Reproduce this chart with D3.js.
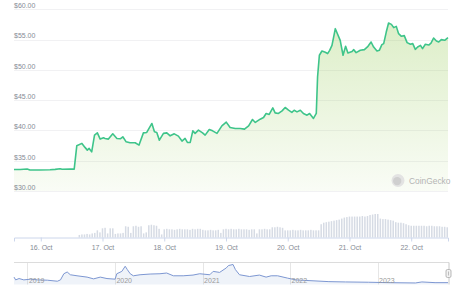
<!DOCTYPE html>
<html>
<head>
<meta charset="utf-8">
<script src="https://cdn.jsdelivr.net/npm/d3@7"></script>
<style>
	html, body { margin: 0; padding: 0; background: #fff; }
	svg { display: block; font-family: "Liberation Sans", Arial, sans-serif; }
</style>
</head>
<body>
<svg id="chart" width="460" height="298"></svg>
<script>
// price samples: hours counted from 15 Oct 2023 00:00 UTC, price in USD
var priceHours = [13.6, 16.0, 18.7, 19.8, 23.7, 27.6, 29.6, 31.5, 32.3, 35.4, 37.0,
	38.0, 40.0, 41.2, 42.1, 42.8, 43.8, 44.9, 46.0, 47.1, 48.4, 49.0, 50.3,
	52.0, 53.6, 54.9, 55.9, 57.2, 58.7, 60.7, 62.2, 63.9, 65.2, 67.2, 68.2,
	69.1, 70.1, 71.7, 73.0, 74.3, 75.9, 77.5, 78.9, 80.1, 81.0, 82.1, 83.1,
	84.0, 85.3, 86.9, 87.9, 89.5, 90.8, 92.5, 94.4, 96.1, 97.6, 99.6, 101.5,
	103.2, 104.8, 106.3, 107.4, 109.3, 110.6, 111.6, 112.8, 114.2, 115.1,
	116.4, 117.8, 119.0, 120.3, 121.6, 122.5, 123.6, 124.9, 126.1, 127.5,
	128.5, 130.0, 131.1, 131.6, 132.3, 133.3, 134.6, 135.5, 136.3, 137.2,
	138.5, 139.4, 140.4, 141.5, 142.5, 143.4, 145.0, 145.6, 146.6, 148.2,
	149.8, 151.2, 152.4, 153.4, 154.7, 155.6, 156.6, 157.3, 158.3, 159.2,
	160.3, 161.2, 162.2, 163.1, 164.2, 165.3, 166.4, 167.7, 168.6, 169.6,
	170.5, 171.6, 172.4, 173.5, 174.8, 175.7, 176.7, 177.8, 178.7, 179.7,
	181.0, 182.3];
var prices = [33.54, 33.54, 33.62, 33.46, 33.46, 33.51, 33.57, 33.67, 33.59, 33.62, 33.62,
	37.46, 37.86, 37.20, 36.75, 37.03, 36.47, 39.23, 39.60, 38.57, 38.78, 38.68, 38.57,
	39.44, 38.68, 38.62, 38.95, 38.12, 37.96, 37.96, 37.58, 39.60, 39.67, 41.15, 39.77,
	39.67, 38.40, 39.51, 39.60, 39.11, 39.44, 39.06, 38.24, 38.68, 38.02, 38.02, 39.93,
	39.51, 40.05, 39.60, 39.23, 40.16, 39.93, 39.51, 40.76, 41.37, 40.49, 40.33, 40.33,
	40.21, 40.76, 41.81, 41.32, 41.86, 42.14, 42.80, 42.64, 43.72, 42.90,
	42.80, 43.23, 43.79, 43.34, 42.97, 43.34, 43.06, 43.34, 42.80, 42.52,
	42.80, 41.98, 42.80, 48.83, 52.41, 53.11, 52.90, 52.69, 53.23, 54.05,
	56.80, 55.87, 54.88, 52.41, 53.89, 52.78, 53.02, 53.34, 52.85, 53.23,
	53.34, 53.89, 54.60, 53.77, 53.11, 53.23, 54.17, 54.33, 56.24, 57.73,
	57.51, 56.97, 57.18, 55.98, 55.54, 55.65, 54.50, 54.22, 54.33, 53.39,
	53.77, 54.05, 53.51, 54.22, 54.10, 54.43, 55.26, 54.76, 54.60, 54.99,
	54.88, 55.32];

// hourly volume (millions USD), first bar at hour 39
var volumeStartHour = 39;
var volumes = [
	0.5, 0.6, 0.6, 0.7, 0.6, 0.8, 0.9, 1.4, 1.0, 1.8, 1.9, 0.8,
	1.8, 1.8, 0.7, 0.8, 0.8, 0.9, 2.2, 2.1, 0.9, 2.2, 2.3, 2.1,
	2.2, 0.8, 1.0, 2.4, 2.5, 2.4, 2.3, 1.7, 0.6, 1.6, 1.7, 1.6,
	1.6, 1.5, 1.6, 1.7, 1.6, 1.6, 1.6, 1.5, 1.7, 1.6, 1.7, 1.7,
	1.5, 1.4, 1.4, 1.5, 1.4, 1.4, 1.5, 0.9, 1.6, 1.7, 1.6, 1.7,
	1.6, 1.6, 1.7, 1.6, 1.6, 1.6, 1.5, 1.6, 1.6, 0.8, 1.6, 1.6,
	1.7, 1.6, 1.6, 2.0, 2.0, 2.1, 2.0, 1.9, 1.4, 1.4, 1.4, 1.5,
	1.4, 1.4, 1.5, 1.4, 1.4, 1.4, 1.5, 1.4, 1.4, 1.4, 2.6, 2.9,
	3.0, 3.1, 3.2, 3.3, 3.4, 3.5, 3.7, 3.9, 4.0, 4.1, 4.1, 4.1,
	4.1, 4.1, 4.2, 4.1, 4.2, 4.4, 4.5, 4.6, 4.6, 3.7, 3.6, 3.6,
	3.5, 3.4, 3.3, 3.0, 2.9, 2.9, 2.8, 2.6, 2.4, 2.3, 2.3, 2.3,
	2.3, 2.3, 2.3, 2.2, 2.3, 2.3, 2.2, 2.2, 2.2, 2.1, 2.1, 2.0];

// long-range history for the navigator strip
var navDates = ["2018-11-06", "2018-11-13", "2018-11-27", "2018-12-17", "2019-01-14",
	"2019-02-11", "2019-03-25", "2019-05-06", "2019-05-19", "2019-06-02", "2019-06-16",
	"2019-06-29", "2019-07-27", "2019-09-07", "2019-10-04", "2019-11-01", "2019-11-29",
	"2020-01-02", "2020-01-09", "2020-01-30", "2020-02-13", "2020-02-22", "2020-03-05",
	"2020-03-18", "2020-04-15", "2020-05-27", "2020-07-07", "2020-08-04", "2020-09-01",
	"2020-10-12", "2020-11-22", "2020-12-20", "2021-01-31", "2021-02-14", "2021-03-13",
	"2021-04-10", "2021-04-19", "2021-05-08", "2021-05-18", "2021-06-04", "2021-07-16",
	"2021-08-26", "2021-09-23", "2021-10-14", "2021-11-10", "2021-12-22", "2022-01-25",
	"2022-03-21", "2022-06-12", "2022-08-20", "2022-11-25", "2023-02-17", "2023-06-08",
	"2023-07-05", "2023-08-29", "2023-10-22"];
var navPrices = [288, 180, 232, 180, 208,
	180, 168, 128, 180, 420, 488,
	380, 340, 288, 220, 288, 232,
	208, 420, 512, 712, 580, 420,
	340, 380, 408, 420, 448, 340,
	340, 368, 420, 380, 512, 472,
	648, 740, 780, 580, 380, 312,
	368, 288, 340, 340, 248, 180,
	152, 112, 100, 88, 72, 60,
	100, 72, 72];

var yTicks = [30, 35, 40, 45, 50, 55, 60];

var base = Date.UTC(2023, 9, 15);
function hourToDate(h) {
	return new Date(base + h * 3600 * 1000);
}

var svg = d3.select("#chart");
var left = 14, right = 448;
var labelColor = "#868b95";

/**
 * Price pane: grid, gradient area and line.
 */
function drawPrice() {
	var x = d3.scaleTime()
		.domain([hourToDate(priceHours[0]), hourToDate(priceHours[priceHours.length - 1])])
		.range([left, right]);
	var y = d3.scaleLinear().domain([30, 60]).range([191, 9.3]);

	var grid = svg.append("g");
	grid.selectAll("line").data(yTicks).join("line")
		.attr("x1", left).attr("x2", right)
		.attr("y1", d => Math.round(y(d)) + 0.5).attr("y2", d => Math.round(y(d)) + 0.5)
		.attr("stroke", "#f1f1f3").attr("stroke-width", 1);

	var defs = svg.append("defs");
	var grad = defs.append("linearGradient").attr("id", "priceFill")
		.attr("gradientUnits", "userSpaceOnUse")
		.attr("x1", 0).attr("x2", 0).attr("y1", y(60)).attr("y2", y(30));
	grad.append("stop").attr("offset", 0).attr("stop-color", "#8dc647").attr("stop-opacity", 0.32);
	grad.append("stop").attr("offset", 1).attr("stop-color", "#8dc647").attr("stop-opacity", 0.05);

	var pts = priceHours.map((h, i) => [hourToDate(h), prices[i]]);
	var area = d3.area().x(d => x(d[0])).y0(y(30)).y1(d => y(d[1]));
	var line = d3.line().x(d => x(d[0])).y(d => y(d[1]));

	svg.append("path").datum(pts).attr("d", area).attr("fill", "url(#priceFill)");
	svg.append("path").datum(pts).attr("d", line)
		.attr("fill", "none").attr("stroke", "#3ec48a")
		.attr("stroke-width", 1.6).attr("stroke-linejoin", "round");

	// labels sit on top of their grid lines, inside the plot
	svg.append("g").selectAll("text").data(yTicks).join("text")
		.attr("x", left).attr("y", d => y(d) - 1.2)
		.attr("font-size", 7).attr("fill", labelColor)
		.text(d => "$" + d3.format(".2f")(d));

	// watermark
	var wm = svg.append("g").attr("transform", "translate(398,180.5)");
	wm.append("circle").attr("r", 6.5).attr("fill", "#e3e3e3");
	wm.append("circle").attr("r", 4.2).attr("cx", -0.8).attr("cy", 0.6).attr("fill", "#cfcfcf");
	wm.append("text").attr("x", 11).attr("y", 3)
		.attr("font-size", 8.4).attr("fill", "#b4b4b4").text("CoinGecko");

	return x;
}

/**
 * Volume bars and the day axis underneath.
 */
function drawVolume(x) {
	var baseY = 237.5;
	var v = d3.scaleLinear().domain([0, 4.6]).range([baseY, 214]);
	var bars = volumes.map((d, i) => [hourToDate(volumeStartHour + i), d]);

	svg.append("g").selectAll("rect").data(bars).join("rect")
		.attr("x", d => x(d[0]) - 0.75).attr("width", 1.5)
		.attr("y", d => v(d[1])).attr("height", d => baseY - v(d[1]))
		.attr("fill", "#d6dbe4");

	var axis = d3.axisBottom(x)
		.ticks(d3.utcDay.every(1))
		.tickFormat(d3.utcFormat("%-d. %b"))
		.tickSize(4).tickPadding(4);
	var g = svg.append("g").attr("transform", "translate(0," + baseY + ")").call(axis);
	g.select(".domain").attr("stroke", "#ccd6eb");
	g.selectAll(".tick line").attr("stroke", "#ccd6eb");
	g.selectAll(".tick text").attr("font-size", 7).attr("fill", labelColor)
		.attr("font-family", "Liberation Sans, Arial, sans-serif");
}

/**
 * Navigator strip with the full history.
 */
function drawNavigator() {
	var top = 262.5, bottom = 284.5;
	var parse = d3.utcParse("%Y-%m-%d");
	var pts = navDates.map((d, i) => [parse(d), navPrices[i]]);
	var x = d3.scaleUtc().domain([pts[0][0], pts[pts.length - 1][0]]).range([left, right]);
	var y = d3.scaleLinear().domain([0, 800]).range([bottom, 264]);

	var years = x.ticks(d3.utcYear.every(1));
	svg.append("g").selectAll("line").data(years).join("line")
		.attr("x1", d => Math.round(x(d)) + 0.5).attr("x2", d => Math.round(x(d)) + 0.5)
		.attr("y1", top).attr("y2", bottom)
		.attr("stroke", "#e6e6e6");

	svg.append("path").datum(pts)
		.attr("d", d3.area().x(d => x(d[0])).y0(bottom).y1(d => y(d[1])))
		.attr("fill", "#6685c2").attr("fill-opacity", 0.1);
	svg.append("path").datum(pts)
		.attr("d", d3.line().x(d => x(d[0])).y(d => y(d[1])))
		.attr("fill", "none").attr("stroke", "#7d97d2").attr("stroke-width", 1);

	svg.append("g").selectAll("text").data(years).join("text")
		.attr("x", d => x(d) + 1.5).attr("y", bottom - 1.5)
		.attr("font-size", 7).attr("fill", "#9a9a9a")
		.text(d3.utcFormat("%Y"));

	// outline and the (tiny) selected range at the right end
	svg.append("line").attr("x1", left).attr("x2", right + 1)
		.attr("y1", top).attr("y2", top).attr("stroke", "#dcdcdc");
	svg.append("line").attr("x1", right + 1).attr("x2", right + 1)
		.attr("y1", top).attr("y2", bottom).attr("stroke", "#c8c8c8");
	svg.append("rect").attr("x", right - 2).attr("y", 269.5)
		.attr("width", 5).attr("height", 8).attr("rx", 1.5)
		.attr("fill", "#f2f2f2").attr("stroke", "#a8a8a8").attr("stroke-width", 0.8);
	svg.append("line").attr("x1", right + 0.5).attr("x2", right + 0.5)
		.attr("y1", 271.5).attr("y2", 275.5).attr("stroke", "#999").attr("stroke-width", 0.6);
}

var x = drawPrice();
drawVolume(x);
drawNavigator();
</script>
</body>
</html>
